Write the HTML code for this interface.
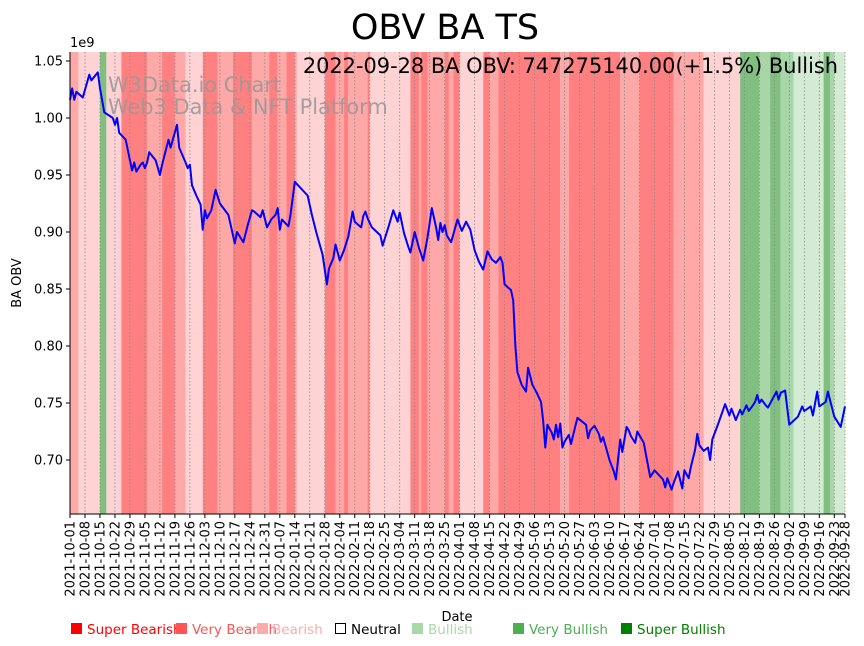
<!DOCTYPE html>
<html><head><meta charset="utf-8"><style>
body{margin:0;background:#fff;}
svg{display:block;font-family:"DejaVu Sans","Liberation Sans",sans-serif;}
</style></head><body>
<svg id="chart" width="864" height="646" viewBox="0 0 864 646">
<text x="445" y="39" font-size="35" text-anchor="middle">OBV BA TS</text>
<g id="bands"></g>
<g id="grid"></g>
<text x="108" y="92" font-size="20.9" fill="#999" fill-opacity="0.9">W3Data.io Chart</text>
<text x="108" y="114" font-size="20.9" fill="#999" fill-opacity="0.9">Web3 Data &amp; NFT Platform</text>
<path id="obvline" fill="none" stroke="#0000ff" stroke-width="2" stroke-linejoin="round"/>
<text x="838" y="73" font-size="20.9" text-anchor="end">2022-09-28 BA OBV: 747275140.00(+1.5%) Bullish</text>
<g id="yaxis"></g>
<g id="xaxis"></g>
<text x="70" y="47" font-size="13">1e9</text>
<text transform="translate(21,283) rotate(-90)" font-size="13" text-anchor="middle">BA OBV</text>
<text x="457" y="621" font-size="13" text-anchor="middle">Date</text>
<g font-size="13.5">
<g><rect x="71" y="623" width="11" height="11" fill="#ff0000"/><text x="87" y="634" fill="#ff0000">Super Bearish</text></g>
<g><rect x="176" y="623" width="11" height="11" fill="#ff5555"/><text x="192" y="634" fill="#ff5555">Very Bearish</text></g>
<g><rect x="257" y="623" width="11" height="11" fill="#ffaaaa"/><text x="272" y="634" fill="#ffaaaa">Bearish</text></g>
<g><rect x="335.5" y="623.5" width="10" height="10" fill="none" stroke="#000"/><text x="351" y="634" fill="#000">Neutral</text></g>
<g><rect x="412" y="623" width="11" height="11" fill="#a8d8a8"/><text x="428" y="634" fill="#a8d8a8">Bullish</text></g>
<g><rect x="513" y="623" width="11" height="11" fill="#4caf50"/><text x="529" y="634" fill="#4caf50">Very Bullish</text></g>
<g><rect x="621" y="623" width="11" height="11" fill="#008000"/><text x="637" y="634" fill="#008000">Super Bullish</text></g>
</g>
</svg>
<script>
// day offsets from 2021-10-01
const obvDays=[0,1,2,3,6,9,10,13,14,16,20,21,22,23,26,28,29,30,31,33,34,35,36,37,40,42,43,46,47,48,50,51,54,55,56,57,59,61,62,63,64,66,68,70,74,77,78,81,83,85,86,89,90,92,94,96,97,98,99,102,103,105,107,111,113,115,118,120,121,123,124,126,128,130,132,133,136,137,138,139,141,145,146,149,151,153,154,156,158,159,161,163,165,167,169,171,172,173,174,175,176,178,181,183,185,187,189,191,193,195,197,199,201,202,203,206,207,208,209,211,213,214,216,218,220,221,222,223,225,226,227,228,229,230,231,233,234,237,241,242,243,245,247,248,249,252,254,255,257,258,260,261,262,264,265,268,269,271,273,277,278,279,281,282,284,286,287,289,290,292,293,294,296,298,299,300,303,306,308,309,311,313,314,316,317,319,320,321,322,323,325,326,330,331,332,334,336,340,342,343,346,347,349,350,353,354,357,360,362];
// OBV in millions
const obvValues=[1016,1026,1016,1023,1018,1038,1033,1040,1026,1005,1000,994,1000,987,981,963,954,961,953,959,961,956,961,970,963,950,959,981,974,981,994,974,961,956,959,941,932,924,902,919,912,919,937,925,915,890,900,891,906,919,918,913,919,904,911,915,921,902,911,905,915,944,940,932,915,900,880,854,868,877,889,875,884,896,918,909,904,914,918,912,904,897,888,906,919,909,917,899,887,882,900,886,875,895,921,904,893,908,900,906,897,891,911,901,909,902,884,874,867,883,876,873,878,873,854,849,840,801,777,766,760,781,766,759,751,735,711,731,724,718,731,720,732,711,716,722,714,737,731,719,726,730,723,716,720,700,690,683,718,707,729,726,721,715,725,715,705,685,691,683,676,684,674,680,690,675,691,684,694,709,723,713,708,711,700,718,733,749,739,745,735,744,740,748,743,748,751,757,750,753,748,746,760,753,759,761,731,738,747,743,747,739,760,747,751,760,738,729,747];
// sentiment bands: start day, end day, level
const bandStart=[0,4,14,17,24,36,43,49,54,62,69,76,85,93,97,101,105,106,119,124,128,130,139,140,159,163,164,167,175,177,179,182,193,196,200,229,233,257,266,282,296,313,322,327,332,338,352,355,357];
const bandEnd=[4,14,17,24,36,43,49,54,62,69,76,85,93,97,101,105,106,119,124,128,130,139,140,159,163,164,167,175,177,179,182,193,196,200,229,233,257,266,282,296,313,322,327,332,338,352,355,357,363];
const bandLevel=['B','C','G1','C','A','B','A','B','C','A','B','A','B','A','B','A','B','C','A','B','A','B','A','C','A','B','A','B','A','B','A','C','A','B','A','B','A','B','A','B','C','G1','G2','G1','G2','G3','G1','G2','G3'];
const yTicks=[0.70,0.75,0.80,0.85,0.90,0.95,1.00,1.05];

const NS='http://www.w3.org/2000/svg';
const L=70,R=845,T=52,B=514,D0=0,D1=362;
const xs=d=>L+(d-D0)/(D1-D0)*(R-L);
const ys=v=>460+(0.70-v)/0.05*57; // v in 1e9
const colors={A:'#ff8080',B:'#ffa8a8',C:'#ffd3d3',G1:'#80bf80',G2:'#a8d6a8',G3:'#d3ebd3'};
function mk(tag,attrs,parent){const e=document.createElementNS(NS,tag);for(const k in attrs)e.setAttribute(k,attrs[k]);parent.appendChild(e);return e;}
const bands=document.getElementById('bands');
for(let i=0;i<bandStart.length;i++){
  const x0=xs(bandStart[i]),x1=Math.min(R,xs(bandEnd[i]));
  const r=mk('rect',{x:x0,y:T,width:Math.max(0,x1-x0),height:B-T,fill:colors[bandLevel[i]]},bands);
  
  
}
let d='';
for(let i=0;i<obvDays.length;i++){d+=(i?'L':'M')+xs(obvDays[i]).toFixed(1)+','+ys(obvValues[i]/1000).toFixed(1);}
document.getElementById('obvline').setAttribute('d',d);
const ya=document.getElementById('yaxis');
mk('line',{x1:L,y1:T,x2:L,y2:B,stroke:'#000','stroke-width':1},ya);
yTicks.forEach(v=>{
  const y=ys(v);
  mk('line',{x1:L-4,y1:y,x2:L,y2:y,stroke:'#000'},ya);
  const t=mk('text',{x:L-7,y:y+4.5,'font-size':13,'text-anchor':'end'},ya);
  t.textContent=v.toFixed(2);
  
  
});
const xa=document.getElementById('xaxis'),grid=document.getElementById('grid');
mk('line',{x1:L,y1:B,x2:R,y2:B,stroke:'#000','stroke-width':1},xa);
const base=Date.UTC(2021,9,1);
const tickDays=[];for(let k=0;k<=358;k+=7)tickDays.push(k);tickDays.push(362);
tickDays.forEach(k=>{
  const x=xs(k);
  mk('line',{x1:x,y1:T,x2:x,y2:B,stroke:'#888','stroke-width':0.8,'stroke-dasharray':'1.5,2'},grid);
  mk('line',{x1:x,y1:B,x2:x,y2:B+4,stroke:'#000'},xa);
  const dt=new Date(base+k*86400000).toISOString().slice(0,10);
  const t=mk('text',{transform:`translate(${x+4.5},${B+7}) rotate(-90)`,'font-size':13,'text-anchor':'end'},xa);
  t.textContent=dt;
  
  
});
</script>
</body></html>
